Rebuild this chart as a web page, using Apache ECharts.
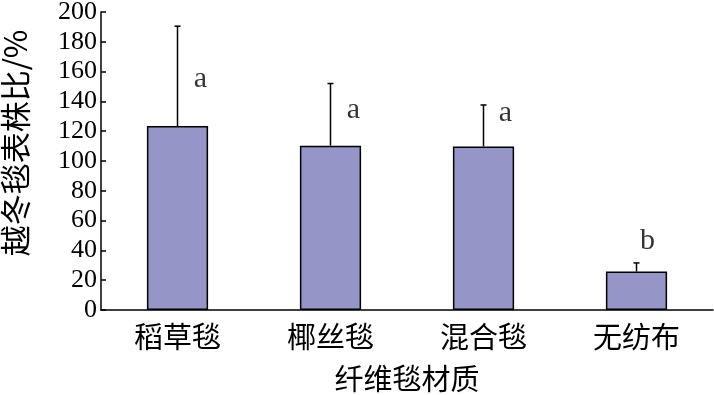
<!DOCTYPE html>
<html>
<head>
<meta charset="utf-8">
<script src="https://cdn.jsdelivr.net/npm/echarts@6/dist/echarts.min.js"></script>
<style>
  html, body { margin: 0; padding: 0; background: #fff; }
  #chart { width: 714px; height: 395px; }
</style>
</head>
<body>
<div id="chart"></div>
<script>
// 数据
const categories = ['稻草毯', '椰丝毯', '混合毯', '无纺布'];
const means = [123.5, 110.3, 109.8, 25.8];
const errUp = [67, 41.7, 27.8, 5.8];
const letters = ['a', 'a', 'a', 'b'];
const letterY = [155, 134, 132, 46];
const yTicks = [0, 20, 40, 60, 80, 100, 120, 140, 160, 180, 200];

const letterDx = [23, 23, 22, 11];

const serif = '"Liberation Serif", "Noto Sans CJK SC", serif';
const cjk = '"Noto Sans CJK SC", "Liberation Serif", sans-serif';
const barColor = '#9595c8';

const chart = echarts.init(document.getElementById('chart'), null, { renderer: 'canvas' });

chart.setOption({
  animation: false,
  grid: { left: 101, right: 1, top: 12, bottom: 85, outerBoundsMode: 'none', containLabel: false },
  xAxis: {
    type: 'category',
    data: categories,
    boundaryGap: true,
    name: '纤维毯材质',
    nameLocation: 'middle',
    nameGap: 54,
    nameTextStyle: { fontFamily: cjk, fontSize: 29, color: '#000' },
    axisLine: { lineStyle: { color: '#000', width: 1.5 } },
    axisTick: { inside: true, length: 5, lineStyle: { color: '#000', width: 1.5 } },
    axisLabel: { fontFamily: cjk, fontSize: 29, color: '#000', margin: 12 }
  },
  yAxis: {
    type: 'value',
    min: yTicks[0],
    max: yTicks[yTicks.length - 1],
    interval: 20,
    name: '越冬毯表株比/%',
    nameLocation: 'middle',
    nameGap: 70,
    nameTextStyle: { fontFamily: cjk, fontSize: 31, color: '#000', padding: [0, 0, 0, 36] },
    axisLine: { show: true, lineStyle: { color: '#000', width: 1.5 } },
    axisTick: { show: true, inside: true, length: 5, lineStyle: { color: '#000', width: 1.5 } },
    axisLabel: { fontFamily: serif, fontSize: 26, color: '#000', margin: 4 },
    splitLine: { show: false }
  },
  series: [
    {
      type: 'bar',
      data: means,
      barWidth: '40%',
      itemStyle: { color: barColor, borderColor: '#000', borderWidth: 1.5 },
      z: 2
    },
    {
      type: 'custom',
      z: 3,
      renderItem: function (params, api) {
        const i = api.value(0);
        const base = api.coord([i, api.value(1)]);
        const top = api.coord([i, api.value(1) + api.value(2)]);
        const style = { stroke: '#000', lineWidth: 1.5 };
        return {
          type: 'group',
          children: [
            { type: 'line', shape: { x1: base[0], y1: base[1], x2: top[0], y2: top[1] }, style: style },
            { type: 'line', shape: { x1: top[0] - 3, y1: top[1], x2: top[0] + 3, y2: top[1] }, style: style }
          ]
        };
      },
      data: means.map(function (m, i) { return [i, m, errUp[i]]; })
    },
    {
      type: 'scatter',
      symbolSize: 0,
      z: 4,
      data: letterY.map(function (y, i) {
        return {
          value: [i, y],
          label: {
            show: true,
            formatter: letters[i],
            offset: [letterDx[i], 0],
            fontFamily: serif,
            fontSize: 30,
            color: '#000'
          }
        };
      })
    }
  ]
});
</script>
</body>
</html>
